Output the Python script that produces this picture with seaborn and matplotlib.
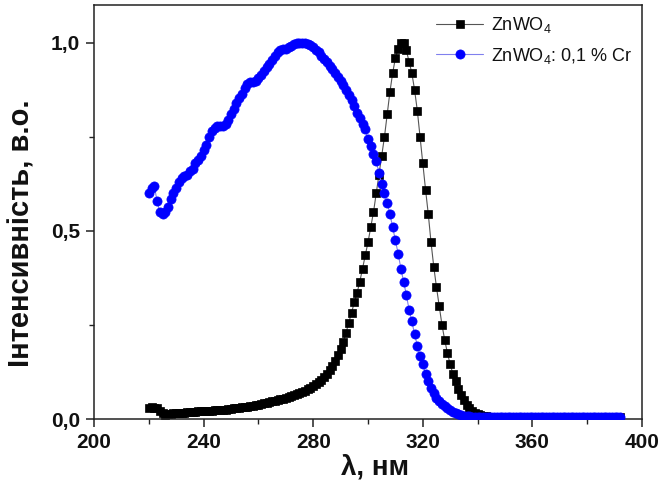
import numpy as np
import matplotlib
matplotlib.use("Agg")
import matplotlib.pyplot as plt
import seaborn as sns
from matplotlib.ticker import FixedLocator, FixedFormatter, MultipleLocator

# ---------------- data ----------------
wavelength = np.arange(220, 393)  # nm, 1 nm sampling

zn_wo4 = [
    0.030, 0.031, 0.028, 0.030, 0.022, 0.015, 0.010, 0.012, 0.014, 0.015,
    0.016, 0.016, 0.017, 0.017, 0.018, 0.018, 0.019, 0.019, 0.020, 0.020,
    0.021, 0.021, 0.022, 0.022, 0.023, 0.023, 0.024, 0.025, 0.025, 0.026,
    0.027, 0.028, 0.029, 0.030, 0.031, 0.032, 0.033, 0.034, 0.035, 0.037,
    0.038, 0.040, 0.042, 0.043, 0.045, 0.047, 0.049, 0.051, 0.052, 0.054,
    0.056, 0.058, 0.061, 0.063, 0.066, 0.068, 0.071, 0.075, 0.079, 0.083,
    0.088, 0.093, 0.099, 0.105, 0.112, 0.120, 0.130, 0.141, 0.154, 0.169,
    0.186, 0.206, 0.230, 0.256, 0.283, 0.310, 0.335, 0.365, 0.400, 0.435,
    0.470, 0.510, 0.550, 0.600, 0.650, 0.700, 0.750, 0.810, 0.870, 0.920,
    0.960, 0.985, 1.000, 1.000, 0.980, 0.950, 0.920, 0.875, 0.820, 0.750,
    0.680, 0.610, 0.545, 0.470, 0.405, 0.350, 0.300, 0.250, 0.210, 0.175,
    0.145, 0.120, 0.100, 0.080, 0.065, 0.050, 0.038, 0.028, 0.021, 0.016,
    0.012, 0.010, 0.008, 0.007, 0.006, 0.006, 0.005, 0.005, 0.005, 0.005,
    0.005, 0.005, 0.005, 0.005, 0.005, 0.005, 0.005, 0.005, 0.005, 0.005,
    0.005, 0.005, 0.005, 0.005, 0.005, 0.005, 0.005, 0.005, 0.005, 0.005,
    0.005, 0.005, 0.005, 0.005, 0.005, 0.005, 0.005, 0.005, 0.005, 0.005,
    0.005, 0.005, 0.005, 0.005, 0.005, 0.005, 0.005, 0.005, 0.005, 0.005,
    0.005, 0.005, 0.005,
]

zn_wo4_cr = [
    0.600, 0.615, 0.620, 0.580, 0.550, 0.545, 0.550, 0.565, 0.585, 0.600,
    0.615, 0.630, 0.640, 0.645, 0.650, 0.660, 0.665, 0.680, 0.690, 0.700,
    0.715, 0.730, 0.750, 0.765, 0.775, 0.780, 0.780, 0.780, 0.785, 0.795,
    0.810, 0.825, 0.840, 0.855, 0.865, 0.880, 0.890, 0.895, 0.897, 0.900,
    0.908, 0.915, 0.925, 0.935, 0.945, 0.955, 0.965, 0.975, 0.980, 0.983,
    0.985, 0.990, 0.993, 0.997, 1.000, 1.000, 1.000, 1.000, 0.998, 0.995,
    0.988, 0.980, 0.975, 0.965, 0.958, 0.950, 0.940, 0.930, 0.920, 0.910,
    0.900, 0.888, 0.875, 0.862, 0.848, 0.832, 0.815, 0.800, 0.785, 0.770,
    0.745, 0.725, 0.705, 0.685, 0.655, 0.625, 0.600, 0.575, 0.545, 0.510,
    0.475, 0.440, 0.400, 0.365, 0.330, 0.290, 0.260, 0.225, 0.195, 0.168,
    0.145, 0.120, 0.100, 0.082, 0.068, 0.057, 0.048, 0.040, 0.034, 0.028,
    0.023, 0.019, 0.016, 0.013, 0.011, 0.009, 0.008, 0.007, 0.006, 0.006,
    0.006, 0.006, 0.006, 0.006, 0.006, 0.006, 0.006, 0.006, 0.006, 0.006,
    0.006, 0.006, 0.006, 0.006, 0.006, 0.006, 0.006, 0.006, 0.006, 0.006,
    0.006, 0.006, 0.006, 0.006, 0.006, 0.006, 0.006, 0.006, 0.006, 0.006,
    0.006, 0.006, 0.006, 0.006, 0.006, 0.006, 0.006, 0.006, 0.006, 0.006,
    0.006, 0.006, 0.006, 0.006, 0.006, 0.006, 0.006, 0.006, 0.006, 0.006,
    0.006, 0.006, 0.006,
]

series_labels = ["ZnWO$_4$", "ZnWO$_4$: 0,1 % Cr"]
x_ticks = [200, 240, 280, 320, 360, 400]
x_ticklabels = ["200", "240", "280", "320", "360", "400"]
y_ticks = [0.0, 0.5, 1.0]
y_ticklabels = ["0,0", "0,5", "1,0"]
x_label = "λ, нм"
y_label = "Інтенсивність, в.о."

# ---------------- style ----------------
sns.set_theme(style="ticks")
plt.rcParams["font.family"] = ["Liberation Sans", "DejaVu Sans"]
plt.rcParams["mathtext.fontset"] = "custom"
plt.rcParams["mathtext.rm"] = "Liberation Sans"
plt.rcParams["mathtext.it"] = "Liberation Sans:italic"
plt.rcParams["mathtext.bf"] = "Liberation Sans:bold"

fig = plt.figure(figsize=(6.63, 4.88), dpi=100)
ax = fig.add_axes([94 / 663, (488 - 419) / 488, (642 - 94) / 663, (419 - 5) / 488])

sns.lineplot(x=wavelength, y=zn_wo4, ax=ax, color="#555555", lw=0.8,
             marker="s", markersize=5.6, markerfacecolor="black",
             markeredgecolor="black", markeredgewidth=0.5,
             label=series_labels[0], zorder=2)
sns.lineplot(x=wavelength, y=zn_wo4_cr, ax=ax, color="#8080ee", lw=0.8,
             marker="o", markersize=6.6, markerfacecolor="#0000ff",
             markeredgecolor="#0000ff", markeredgewidth=0.5,
             label=series_labels[1], zorder=3)

ax.set_xlim(200, 400)
ax.set_ylim(0, 1.101)

ax.xaxis.set_major_locator(FixedLocator(x_ticks))
ax.xaxis.set_major_formatter(FixedFormatter(x_ticklabels))
ax.xaxis.set_minor_locator(MultipleLocator(20))
ax.yaxis.set_major_locator(FixedLocator(y_ticks))
ax.yaxis.set_major_formatter(FixedFormatter(y_ticklabels))
ax.yaxis.set_minor_locator(MultipleLocator(0.25))

ax.tick_params(which="major", direction="out", length=6, width=1.1,
               color="#222222", labelsize=15, pad=4)
ax.tick_params(which="minor", direction="out", length=3.5, width=1.0,
               color="#222222")
for lab in ax.get_xticklabels() + ax.get_yticklabels():
    lab.set_fontweight("bold")
    lab.set_color("#111111")

for side in ["top", "right", "left", "bottom"]:
    ax.spines[side].set_visible(True)
    ax.spines[side].set_linewidth(1.1)
    ax.spines[side].set_color("#222222")

ax.set_xlabel(x_label, fontsize=20, fontweight="bold", color="#111111")
ax.set_ylabel(y_label, fontsize=21, fontweight="bold", color="#111111")
ax.xaxis.set_label_coords(0.513, -0.085)
ax.yaxis.set_label_coords(-0.106, 0.45)

leg = ax.legend(loc="upper right", frameon=False, fontsize=13,
                handlelength=2.6, handletextpad=0.4, labelspacing=0.6,
                borderaxespad=0.15, borderpad=0.4)
for txt in leg.get_texts():
    txt.set_color("#111111")

fig.savefig("out.png", dpi=100)
